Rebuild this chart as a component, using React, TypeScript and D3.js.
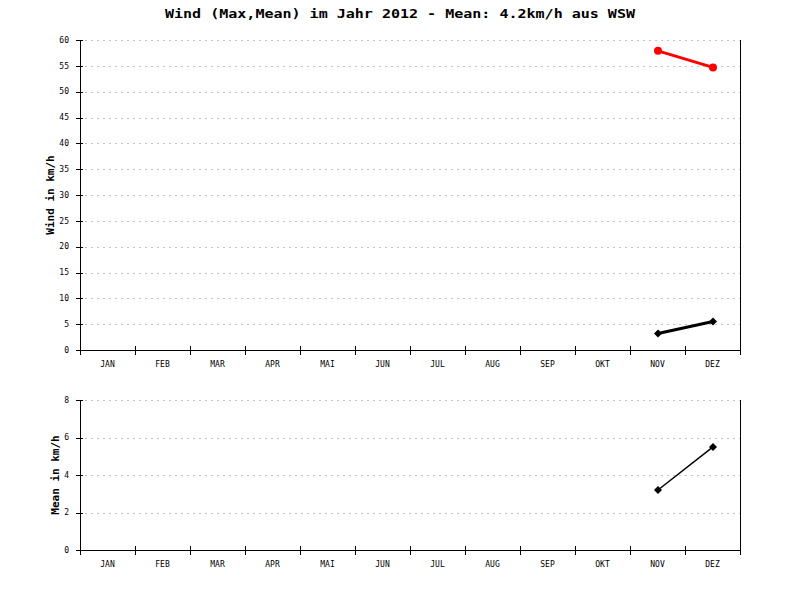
import React from "react";
import * as d3 from "d3";

const months = ["JAN", "FEB", "MAR", "APR", "MAI", "JUN", "JUL", "AUG", "SEP", "OKT", "NOV", "DEZ"];
const maxMonths = ["NOV", "DEZ"];
const maxValues = [57.9, 54.7];
const meanMonths = ["NOV", "DEZ"];
const meanValues = [3.2, 5.5];
const topTicks = [0, 5, 10, 15, 20, 25, 30, 35, 40, 45, 50, 55, 60];
const bottomTicks = [0, 2, 4, 6, 8];
const title = "Wind (Max,Mean) im Jahr 2012 - Mean: 4.2km/h aus WSW";

const FONT = "'DejaVu Sans Mono', 'Liberation Mono', monospace";

function diamond(x: number, y: number, r: number) {
  return `M${x},${y - r}L${x + r},${y}L${x},${y + r}L${x - r},${y}Z`;
}

function Panel(props: {
  top: number;
  bottom: number;
  domainMax: number;
  ticks: number[];
  yLabel: string;
  yLabelX: number;
  children: (x: d3.ScaleBand<string>, y: d3.ScaleLinear<number, number>) => React.ReactNode;
}) {
  const { top, bottom, domainMax, ticks, yLabel, yLabelX } = props;
  const left = 80;
  const right = 740;
  const x = d3.scaleBand<string>().domain(months).range([left, right]).padding(0);
  const y = d3.scaleLinear().domain([0, domainMax]).range([bottom, top]);
  const bw = x.bandwidth();
  const py = (t: number) => Math.round(y(t)) + 0.5;
  return (
    <g>
      {ticks.filter((t) => t > 0).map((t) => (
        <line key={"g" + t} x1={left + 5} x2={right} y1={py(t)} y2={py(t)} stroke="#c4c4c4" strokeWidth={1} strokeDasharray="2,4" shapeRendering="crispEdges" />
      ))}
      <g shapeRendering="crispEdges">
        <line x1={left + 0.5} x2={left + 0.5} y1={top} y2={bottom + 5} stroke="#000" strokeWidth={1} />
        <line x1={right + 0.5} x2={right + 0.5} y1={top} y2={bottom + 5} stroke="#000" strokeWidth={1} />
        <line x1={left} x2={right} y1={py(0)} y2={py(0)} stroke="#000" strokeWidth={1} />
        {ticks.map((t) => (
          <line key={"tk" + t} x1={left - 4} x2={left + 3} y1={py(t)} y2={py(t)} stroke="#000" />
        ))}
        {months.map((m) => (
          <line key={"mk" + m} x1={x(m)! + 0.5} x2={x(m)! + 0.5} y1={bottom - 4} y2={bottom + 5} stroke="#000" />
        ))}
      </g>
      {ticks.map((t) => (
        <text key={"t" + t} x={left - 11} y={y(t)} dy="0.35em" textAnchor="end" fontFamily={FONT} fontSize={8} fill="#000">
          {t}
        </text>
      ))}
      {months.map((m) => (
        <text key={"m" + m} x={x(m)! + bw / 2} y={bottom + 14} dy="0.35em" textAnchor="middle" fontFamily={FONT} fontSize={8} fill="#000">
          {m}
        </text>
      ))}
      <text
        transform={`translate(${yLabelX},${(top + bottom) / 2}) rotate(-90)`}
        textAnchor="middle"
        dy="0.35em"
        fontFamily={FONT}
        fontSize={11}
        fontWeight="bold"
        fill="#000"
      >
        {yLabel}
      </text>
      {props.children(x, y)}
    </g>
  );
}

export default function App() {
  return (
    <svg width={800} height={600} style={{ position: "absolute", left: 0, top: 0, background: "#fff" }}>
      <rect x={0} y={0} width={800} height={600} fill="#fff" />
      <text x={400} y={13} dy="0.35em" textAnchor="middle" fontFamily={FONT} fontSize={13} fontWeight="bold" fill="#000" textLength={470} lengthAdjust="spacingAndGlyphs">
        {title}
      </text>
      <Panel top={40} bottom={350} domainMax={60} ticks={topTicks} yLabel="Wind in km/h" yLabelX={50}>
        {(x, y) => {
          const cx = (m: string) => x(m)! + x.bandwidth() / 2 + 0.5;
          const lineMax = d3.line<number>().x((_, i) => cx(maxMonths[i])).y((v) => y(v));
          const lineMean = d3.line<number>().x((_, i) => cx(meanMonths[i])).y((v) => y(v));
          return (
            <g>
              <path d={lineMax(maxValues)!} fill="none" stroke="#ff0000" strokeWidth={3} />
              {maxValues.map((v, i) => (
                <circle key={"c" + i} cx={cx(maxMonths[i])} cy={y(v)} r={4} fill="#ff0000" />
              ))}
              <path d={lineMean(meanValues)!} fill="none" stroke="#000" strokeWidth={3} />
              {meanValues.map((v, i) => (
                <path key={"d" + i} d={diamond(cx(meanMonths[i]), y(v), 4)} fill="#000" />
              ))}
            </g>
          );
        }}
      </Panel>
      <Panel top={400} bottom={550} domainMax={8} ticks={bottomTicks} yLabel="Mean in km/h" yLabelX={55}>
        {(x, y) => {
          const cx = (m: string) => x(m)! + x.bandwidth() / 2 + 0.5;
          const lineMean = d3.line<number>().x((_, i) => cx(meanMonths[i])).y((v) => y(v));
          return (
            <g>
              <path d={lineMean(meanValues)!} fill="none" stroke="#000" strokeWidth={1.5} />
              {meanValues.map((v, i) => (
                <path key={"e" + i} d={diamond(cx(meanMonths[i]), y(v), 4)} fill="#000" />
              ))}
            </g>
          );
        }}
      </Panel>
    </svg>
  );
}
